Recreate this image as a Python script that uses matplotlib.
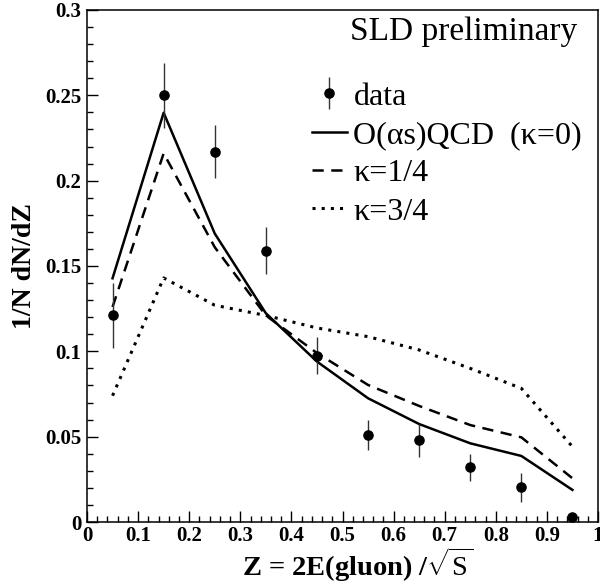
import matplotlib
matplotlib.use("Agg")
import matplotlib.pyplot as plt
from matplotlib.ticker import MultipleLocator, FuncFormatter

plt.rcParams['font.family'] = ['Liberation Serif', 'DejaVu Serif']
plt.rcParams['mathtext.fontset'] = 'custom'
plt.rcParams['mathtext.rm'] = 'Liberation Serif'
plt.rcParams['mathtext.it'] = 'Liberation Serif:italic'
plt.rcParams['mathtext.bf'] = 'Liberation Serif:bold'

# Data
z = [0.05, 0.15, 0.25, 0.35, 0.45, 0.55, 0.65, 0.75, 0.85, 0.95]
data = [0.121, 0.250, 0.217, 0.159, 0.0975, 0.051, 0.048, 0.032, 0.0203, 0.0027]
data_err = [0.019, 0.019, 0.0157, 0.0137, 0.011, 0.009, 0.0097, 0.0078, 0.0085, 0.002]
qcd_k0 = [0.1428, 0.2398, 0.169, 0.1223, 0.094, 0.0725, 0.0574, 0.0461, 0.0387, 0.0188]
k_1_4 = [0.126, 0.216, 0.161, 0.121, 0.099, 0.0803, 0.068, 0.0568, 0.0496, 0.0256]
k_3_4 = [0.074, 0.143, 0.127, 0.121, 0.1137, 0.1086, 0.1008, 0.090, 0.0783, 0.0441]

fig = plt.figure(figsize=(6.0, 5.86), dpi=100)
ax = fig.add_axes([0.145, 0.1092, 0.8517, 0.8738])

l0, = ax.plot(z, qcd_k0, color='black', lw=1.8, ls='-')
l1, = ax.plot(z, k_1_4, color='black', lw=1.8, ls=(0, (4.5, 3.0)))
l2, = ax.plot(z, k_3_4, color='black', lw=2.2, ls=(0, (1.0, 2.0)))
eb = ax.errorbar(z, data, yerr=data_err, fmt='o', color='black', ms=6.6,
                 ecolor='#333333', elinewidth=1.0, capsize=0, zorder=5)

ax.set_xlim(0, 1)
ax.set_ylim(0, 0.3)
ax.xaxis.set_major_locator(MultipleLocator(0.1))
ax.xaxis.set_minor_locator(MultipleLocator(0.02))
ax.yaxis.set_major_locator(MultipleLocator(0.05))
ax.yaxis.set_minor_locator(MultipleLocator(0.01))

fmt = FuncFormatter(lambda v, p: ('%g' % round(v, 3)))
ax.xaxis.set_major_formatter(fmt)
ax.yaxis.set_major_formatter(fmt)

ax.tick_params(which='both', direction='in', top=False, right=False, width=1.0)
ax.tick_params(which='major', length=8, labelsize=15)
ax.tick_params(axis='x', which='major', pad=3)
ax.tick_params(axis='y', which='major', pad=4)
ax.tick_params(which='minor', length=4)
for lab in ax.get_xticklabels() + ax.get_yticklabels():
    lab.set_fontweight('bold')
for s in ax.spines.values():
    s.set_linewidth(1.1)

ax.set_xlabel(r'Z = 2E(gluon) /$\sqrt{\mathrm{S}}$', fontsize=20.5, fontweight='bold',
              va='center')
ax.xaxis.set_label_coords(0.53, -0.084)
ax.set_ylabel('1/N dN/dZ', fontsize=20, fontweight='bold', labelpad=6)

ax.text(0.959, 0.957, 'SLD preliminary', transform=ax.transAxes, ha='right', va='center',
        fontsize=24)

leg = ax.legend([eb, l0, l1, l2],
                ['data', 'O(\u03b1s)QCD  (\u03ba=0)', '\u03ba=1/4', '\u03ba=3/4'],
                loc='upper right', bbox_to_anchor=(1.0, 0.89), frameon=False,
                fontsize=23, handlelength=1.1, handletextpad=0.2, labelspacing=0.28,
                borderaxespad=0.1)

fig.savefig('out.png', dpi=100)
